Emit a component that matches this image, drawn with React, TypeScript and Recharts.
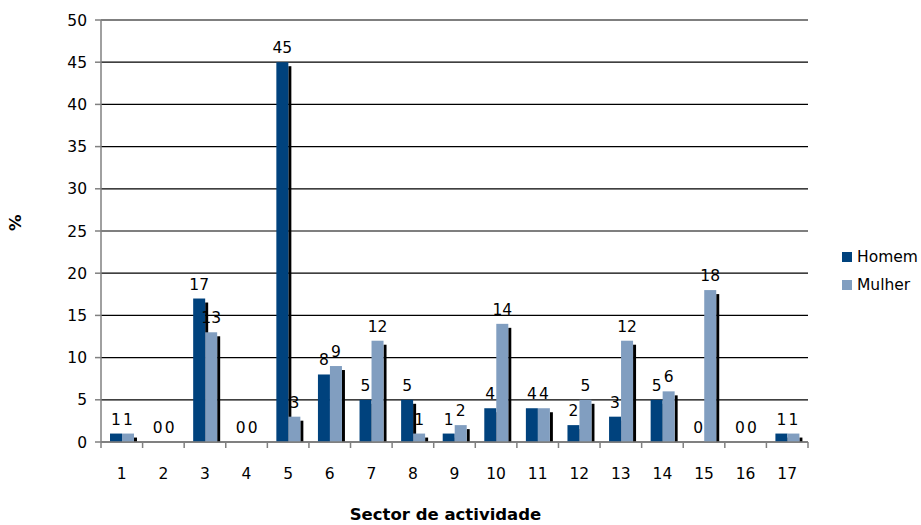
import { BarChart, Bar, XAxis, YAxis, CartesianGrid, LabelList } from "recharts";

const sectors = ["1", "2", "3", "4", "5", "6", "7", "8", "9", "10", "11", "12", "13", "14", "15", "16", "17"];
const homem = [1, 0, 17, 0, 45, 8, 5, 5, 1, 4, 4, 2, 3, 5, 0, 0, 1];
const mulher = [1, 0, 13, 0, 3, 9, 12, 1, 2, 14, 4, 5, 12, 6, 18, 0, 1];
const yTicks = [0, 5, 10, 15, 20, 25, 30, 35, 40, 45, 50];

const data = sectors.map((s, i) => ({ sector: s, Homem: homem[i], Mulher: mulher[i] }));

const FONT = "'DejaVu Sans', Verdana, sans-serif";
const FS = 15.5;
const BAND = 707 / 17;

// bar with a black drop shadow on its right side
const ShadowBar = (props: any) => {
  const { x, y, width, height, fill } = props;
  if (!height || height <= 0) return null;
  return (
    <g>
      <rect x={x + width} y={y + 4} width={3} height={Math.max(height - 4, 0)} fill="#000" />
      <rect x={x} y={y} width={width} height={height} fill={fill} />
    </g>
  );
};

const SectorTick = (props: any) => {
  const { x, y, payload, index } = props;
  const top = y - 8;
  return (
    <g>
      <line x1={x - BAND / 2} x2={x - BAND / 2} y1={top} y2={top + 6} stroke="#808080" strokeWidth={1.5} />
      {index === sectors.length - 1 && (
        <line x1={x + BAND / 2} x2={x + BAND / 2} y1={top} y2={top + 6} stroke="#808080" strokeWidth={1.5} />
      )}
      <text x={x} y={top + 37} textAnchor="middle" fontFamily={FONT} fontSize={FS} fill="#000">
        {payload.value}
      </text>
    </g>
  );
};

const legendItems = [
  { name: "Homem", color: "#00427D" },
  { name: "Mulher", color: "#819EC0" },
];

export default function App() {
  return (
    <div style={{ position: "absolute", left: 0, top: 0, width: 921, height: 525, background: "#fff" }}>
      <BarChart
        width={921}
        height={525}
        data={data}
        margin={{ top: 20, right: 113, left: 0, bottom: 0 }}
        barGap={0}
        barSize={12}
      >
        <CartesianGrid vertical={false} stroke="#000" strokeWidth={1.2} />
        <XAxis
          dataKey="sector"
          height={83}
          axisLine={{ stroke: "#808080", strokeWidth: 1.5 }}
          tickLine={false}
          tick={<SectorTick />}
          interval={0}
          label={{
            value: "Sector de actividade",
            position: "insideBottom",
            dx: -9,
            offset: 5,
            style: { fontFamily: FONT, fontSize: 16.5, fontWeight: "bold", fill: "#000" },
          }}
        />
        <YAxis
          width={101}
          domain={[0, 50]}
          ticks={yTicks}
          interval={0}
          axisLine={{ stroke: "#808080", strokeWidth: 1.5 }}
          tickLine={{ stroke: "#808080", strokeWidth: 1.5 }}
          tickSize={6}
          tickMargin={8}
          tick={{ fontFamily: FONT, fontSize: FS, fill: "#000" }}
          label={{
            value: "%",
            angle: -90,
            position: "insideLeft",
            dx: 10,
            style: { fontFamily: FONT, fontSize: 16.5, fontWeight: "bold", fill: "#000" },
          }}
        />
        <Bar dataKey="Homem" fill="#00427D" shape={<ShadowBar />} isAnimationActive={false}>
          <LabelList dataKey="Homem" position="top" offset={9} style={{ fontFamily: FONT, fontSize: FS, fill: "#000" }} />
        </Bar>
        <Bar dataKey="Mulher" fill="#819EC0" shape={<ShadowBar />} isAnimationActive={false}>
          <LabelList dataKey="Mulher" position="top" offset={9} style={{ fontFamily: FONT, fontSize: FS, fill: "#000" }} />
        </Bar>
      </BarChart>
      <div style={{ position: "absolute", left: 842, top: 243, fontFamily: FONT, fontSize: FS, color: "#000" }}>
        {legendItems.map((it) => (
          <div key={it.name} style={{ display: "flex", alignItems: "center", height: 28 }}>
            <span style={{ width: 10, height: 10, background: it.color, display: "inline-block", marginRight: 5 }} />
            {it.name}
          </div>
        ))}
      </div>
    </div>
  );
}
